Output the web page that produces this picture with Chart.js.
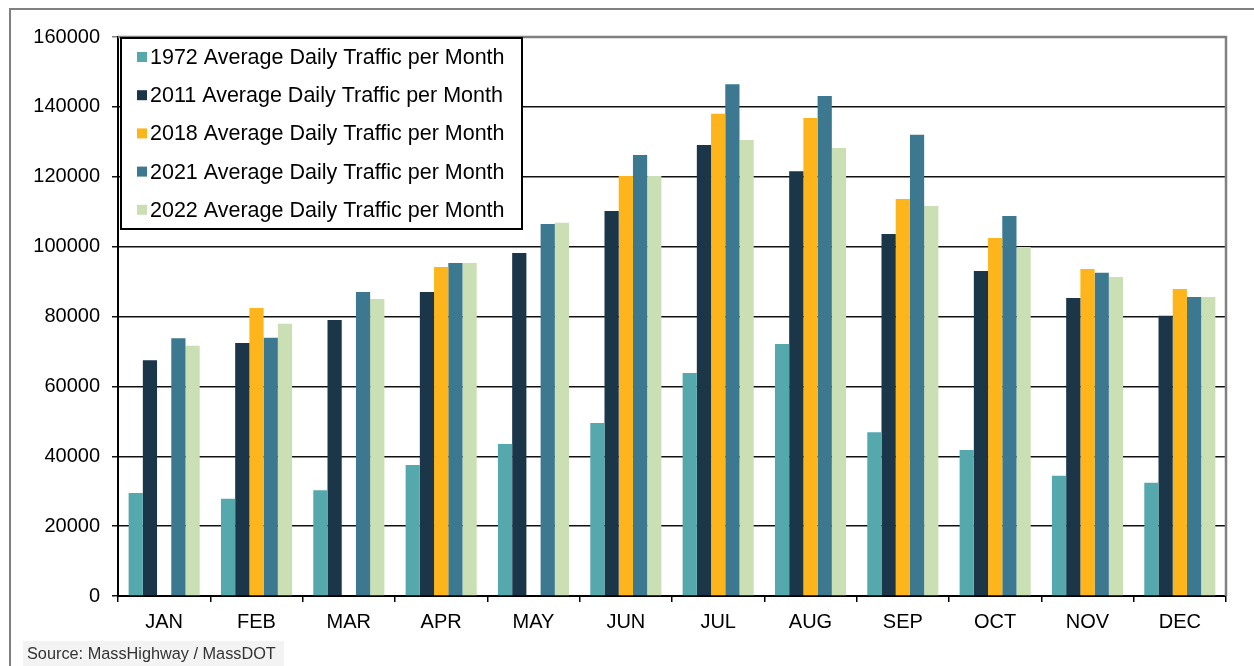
<!DOCTYPE html>
<html>
<head>
<meta charset="utf-8">
<script src="https://cdn.jsdelivr.net/npm/chart.js@4/dist/chart.umd.min.js"></script>
<style>
  html, body { margin: 0; padding: 0; background: #fff; }
  #wrap { width: 1254px; height: 666px; }
</style>
</head>
<body>
<div id="wrap"><canvas id="trafficChart" width="1254" height="666"></canvas></div>
<script>
// ---------- DATA ----------
const months = ["JAN", "FEB", "MAR", "APR", "MAY", "JUN", "JUL", "AUG", "SEP", "OCT", "NOV", "DEC"];

const traffic1972 = [29500, 27800, 30300, 37500, 43500, 49500, 63800, 72100, 46900, 41800, 34400, 32400];
const traffic2011 = [67500, 72400, 79000, 87000, 98200, 110200, 129100, 121600, 103600, 93000, 85300, 80200];
const traffic2018 = [null, 82400, null, 94200, null, 120200, 138000, 136800, 113600, 102500, 93600, 87900];
const traffic2021 = [73800, 73900, 87000, 95300, 106500, 126200, 146500, 143100, 132000, 108800, 92500, 85600];
const traffic2022 = [71600, 77900, 85000, 95300, 106800, 120200, 130500, 128200, 111600, 99900, 91300, 85600];

const yTicks = [0, 20000, 40000, 60000, 80000, 100000, 120000, 140000, 160000];

const sourceNote = "Source: MassHighway / MassDOT";

const FONT = "'Liberation Sans', Arial, sans-serif";

// ---------- DATASETS ----------
function series(label, data, color) {
    return {
        label: label,
        data: data,
        backgroundColor: color,
        borderWidth: 0,
        barPercentage: 1.0,
        categoryPercentage: 0.77
    };
}

const datasets = [
    series("1972 Average Daily Traffic per Month", traffic1972, "#55a9ac"),
    series("2011 Average Daily Traffic per Month", traffic2011, "#1b3549"),
    series("2018 Average Daily Traffic per Month", traffic2018, "#fdb51b"),
    series("2021 Average Daily Traffic per Month", traffic2021, "#3c788f"),
    series("2022 Average Daily Traffic per Month", traffic2022, "#cbdfb5")
];

// ---------- DECORATION PLUGIN ----------
// frame, plot border, boxed legend inside the plot, source note
const decor = {
    id: "decor",
    beforeDraw(chart) {
        const ctx = chart.ctx;
        ctx.save();
        ctx.fillStyle = "#fff";
        ctx.fillRect(0, 0, chart.width, chart.height);
        // outer frame
        ctx.strokeStyle = "#808080";
        ctx.lineWidth = 2;
        ctx.strokeRect(10, 9, 1400, 800);
        ctx.restore();
    },
    afterDraw(chart) {
        const ctx = chart.ctx;
        const a = chart.chartArea;
        ctx.save();

        // plot border: top + right in gray
        ctx.strokeStyle = "#808080";
        ctx.lineWidth = 2.5;
        ctx.beginPath();
        ctx.moveTo(a.left, a.top);
        ctx.lineTo(a.right, a.top);
        ctx.lineTo(a.right, a.bottom);
        ctx.stroke();

        // legend box
        const lx = a.left + 3, ly = a.top + 1, lw = 401, lh = 191;
        ctx.fillStyle = "#fff";
        ctx.fillRect(lx, ly, lw, lh);
        ctx.strokeStyle = "#000";
        ctx.lineWidth = 2;
        ctx.strokeRect(lx, ly, lw, lh);

        ctx.font = "21.5px " + FONT;
        ctx.textBaseline = "middle";
        ctx.textAlign = "left";
        chart.data.datasets.forEach((ds, i) => {
            const cy = ly + 19 + i * 38.2;
            ctx.fillStyle = ds.backgroundColor;
            ctx.fillRect(lx + 16, cy - 5, 10, 10);
            ctx.fillStyle = "#000";
            ctx.fillText(ds.label, lx + 29, cy + 1);
        });

        // source note
        ctx.fillStyle = "#f3f3f3";
        ctx.fillRect(23, 641, 261, 25);
        ctx.fillStyle = "#333";
        ctx.font = "16.3px " + FONT;
        ctx.textBaseline = "alphabetic";
        ctx.fillText(sourceNote, 27, 659);

        ctx.restore();
    }
};

// ---------- CHART ----------
new Chart(document.getElementById("trafficChart"), {
    type: "bar",
    data: { labels: months, datasets: datasets },
    plugins: [decor],
    options: {
        responsive: false,
        animation: false,
        devicePixelRatio: 1,
        layout: { padding: { top: 37, right: 28, left: 0, bottom: 0 } },
        plugins: {
            legend: { display: false },
            tooltip: { enabled: false }
        },
        scales: {
            x: {
                offset: true,
                grid: {
                    offset: true,
                    drawOnChartArea: false,
                    color: "#000",
                    lineWidth: 1.5,
                    tickLength: 6
                },
                border: { color: "#000", width: 2 },
                ticks: {
                    color: "#000",
                    font: { family: FONT, size: 20 },
                    padding: 8,
                    maxRotation: 0
                },
                afterFit(scale) { scale.height = 70; }
            },
            y: {
                min: 0,
                max: 160000,
                afterBuildTicks(scale) {
                    scale.ticks = yTicks.map(v => ({ value: v }));
                },
                grid: {
                    color: ctx => (ctx.tick && ctx.tick.value === 160000) ? "#808080" : "#111",
                    lineWidth: 1.5,
                    tickLength: 6
                },
                border: { color: "#000", width: 2 },
                ticks: {
                    color: "#000",
                    font: { family: FONT, size: 20 },
                    padding: 12,
                    callback: v => String(v)
                },
                afterFit(scale) { scale.width = 118; }
            }
        }
    }
});
</script>
</body>
</html>
